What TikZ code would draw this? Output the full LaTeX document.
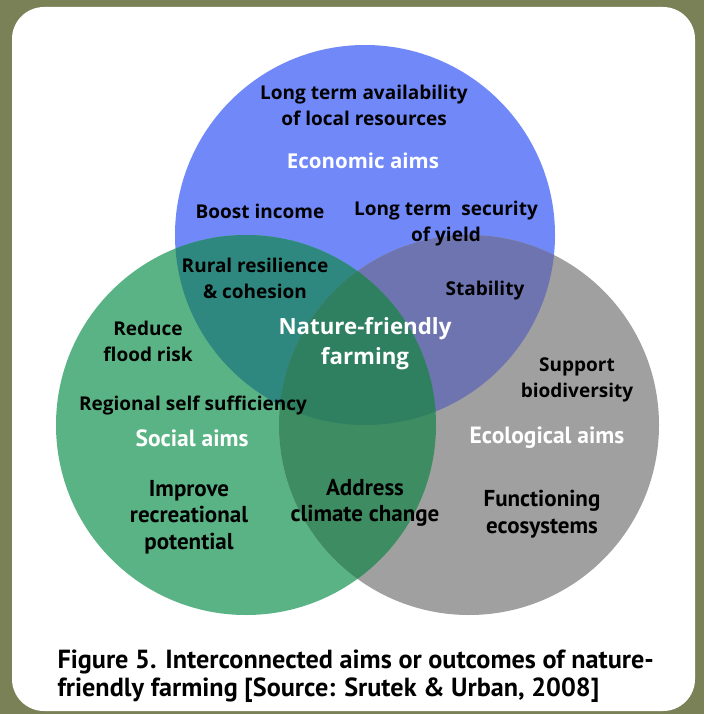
\documentclass[tikz,border=0pt]{standalone}
\usepackage{fontspec}
\setmainfont{Open Sans}
\newfontfamily\narrowfont{PT Sans}
\definecolor{frameC}{RGB}{123,129,86}
\definecolor{blueC}{RGB}{112,136,248}
\definecolor{greenC}{RGB}{90,179,132}
\definecolor{grayC}{RGB}{160,160,160}
\definecolor{bgC}{RGB}{46,136,128}
\definecolor{bgrC}{RGB}{110,116,176}
\definecolor{ggC}{RGB}{62,141,98}
\definecolor{allC}{RGB}{46,128,96}
\tikzset{
  lbl/.style={align=center,text=black,font=\bfseries\fontsize{19}{26}\selectfont},
  nlbl/.style={align=center,text=black,font=\narrowfont\bfseries\fontsize{23}{26.5}\selectfont},
  aim/.style={align=center,text=white,font=\bfseries\fontsize{20.5}{26}\selectfont},
  naim/.style={align=center,text=white,font=\narrowfont\bfseries\fontsize{23.5}{26}\selectfont},
  core/.style={align=center,text=white,font=\bfseries\fontsize{22.3}{30}\selectfont},
  figtext/.style={anchor=west,align=left,text=black,font=\narrowfont\bfseries\fontsize{26.2}{28}\selectfont}
}
\newcommand{\rad}{190pt}
\begin{document}
\begin{tikzpicture}[x=1pt,y=-1pt]
                    \useasboundingbox (0,0) rectangle (704,714);
                    \fill[frameC] (0,0) rectangle (704,714);
                    \fill[white,rounded corners=32pt] (12,7) rectangle (695,711);

                    %CIRCLES
                    \coordinate (E) at (365,235);
                    \coordinate (S) at (246,425);
                    \coordinate (O) at (469,425);
                    \fill[blueC] (E) circle[radius=\rad];
                    \fill[greenC] (S) circle[radius=\rad];
                    \fill[grayC] (O) circle[radius=\rad];
                    \begin{scope}
                        \clip (E) circle[radius=\rad];
                        \fill[bgC] (S) circle[radius=\rad];
                        \fill[bgrC] (O) circle[radius=\rad];
                    \end{scope}
                    \begin{scope}
                        \clip (S) circle[radius=\rad];
                        \fill[ggC] (O) circle[radius=\rad];
                        \clip (E) circle[radius=\rad];
                        \fill[allC] (O) circle[radius=\rad];
                    \end{scope}

                    %NODE
                    \node[lbl] (avail) at (364,105) {Long term availability\\of local resources};
                    \node[aim] (eco) at (363,161) {Economic aims};
                    \node[lbl] (boost) at (260,211) {Boost income};
                    \node[lbl] (secure) at (446,224) {Long term\ \ security\\of yield};
                    \node[lbl] (rural) at (255,278) {Rural resilience\\\& cohesion};
                    \node[lbl] (stab) at (485,291) {Stability};
                    \node[core] (nff) at (365,344) {Nature-friendly\\farming};
                    \node[lbl] (flood) at (148,341) {Reduce\\flood risk};
                    \node[lbl] (biod) at (577,380) {Support\\biodiversity};
                    \node[lbl] (self) at (193,406) {Regional self sufficiency};
                    \node[naim] (soc) at (192,438) {Social aims};
                    \node[naim] (ecol) at (547,438) {Ecological aims};
                    \node[nlbl] (recr) at (189,517) {Improve\\recreational\\potential};
                    \node[nlbl] (clim) at (365,503) {Address\\climate change};
                    \node[nlbl] (func) at (542,514) {Functioning\\ecosystems};

                    %CAPTION
                    \node[figtext] (fig) at (54,676) {Figure 5. Interconnected aims or outcomes of nature-\\friendly farming [Source: Srutek \& Urban, 2008]};
                \end{tikzpicture}
\end{document}
